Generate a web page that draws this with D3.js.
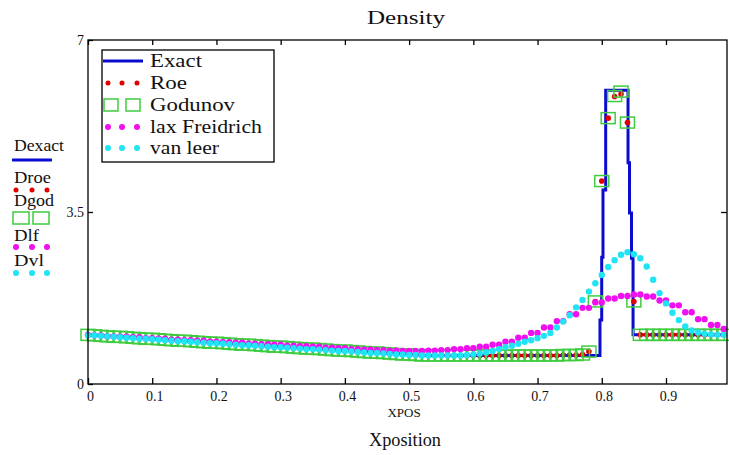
<!DOCTYPE html>
<html><head><meta charset="utf-8">
<script src="https://cdn.jsdelivr.net/npm/d3@7"></script>
<style>
body{margin:0;background:#fff}
svg{display:block}
svg text{font-family:"Liberation Serif","DejaVu Serif",serif !important;fill:#111}
</style>
</head><body>
<svg id="chart" width="729" height="455"></svg>
<script>
// ---------- data ----------
const xTicks = [0, 0.1, 0.2, 0.3, 0.4, 0.5, 0.6, 0.7, 0.8, 0.9];
const xTickLabels = ["0", "0.1", "0.2", "0.3", "0.4", "0.5", "0.6", "0.7", "0.8", "0.9"];
const yTicks = [0, 3.5, 7];
const yTickLabels = ["0", "3.5", "7"];

const xGrid = [
0.00,0.01,0.02,0.03,0.04,0.05,0.06,0.07,0.08,0.09,
0.10,0.11,0.12,0.13,0.14,0.15,0.16,0.17,0.18,0.19,
0.20,0.21,0.22,0.23,0.24,0.25,0.26,0.27,0.28,0.29,
0.30,0.31,0.32,0.33,0.34,0.35,0.36,0.37,0.38,0.39,
0.40,0.41,0.42,0.43,0.44,0.45,0.46,0.47,0.48,0.49,
0.50,0.51,0.52,0.53,0.54,0.55,0.56,0.57,0.58,0.59,
0.60,0.61,0.62,0.63,0.64,0.65,0.66,0.67,0.68,0.69,
0.70,0.71,0.72,0.73,0.74,0.75,0.76,0.77,0.78,0.79,
0.80,0.81,0.82,0.83,0.84,0.85,0.86,0.87,0.88,0.89,
0.90,0.91,0.92,0.93,0.94,0.95,0.96,0.97,0.98,0.99];

const exactX = [0, 0.1, 0.2, 0.3, 0.4, 0.5, 0.53, 0.78, 0.7972, 0.7972, 0.7999, 0.7999, 0.8019, 0.8019, 0.8061, 0.8061, 0.8409, 0.8409, 0.8432, 0.8432, 0.8463, 0.8463, 0.8487, 0.8487, 0.99];
const exactD = [1.0, 0.92, 0.84, 0.76, 0.68, 0.60, 0.58, 0.58, 0.58, 1.30, 1.30, 2.58, 2.58, 3.95, 3.95, 5.98, 5.98, 4.50, 4.50, 3.48, 3.48, 2.56, 2.56, 1.0, 1.0];

const roe = [
1.00,0.99,0.98,0.97,0.96,0.96,0.95,0.94,0.93,0.92,
0.92,0.91,0.90,0.89,0.88,0.88,0.87,0.86,0.85,0.84,
0.84,0.83,0.82,0.81,0.80,0.80,0.79,0.78,0.77,0.76,
0.76,0.75,0.74,0.73,0.72,0.72,0.71,0.70,0.69,0.68,
0.68,0.67,0.66,0.65,0.64,0.64,0.63,0.62,0.61,0.60,
0.60,0.59,0.58,0.58,0.58,0.58,0.58,0.58,0.58,0.58,
0.58,0.58,0.58,0.58,0.58,0.58,0.58,0.58,0.58,0.58,
0.58,0.58,0.58,0.58,0.59,0.59,0.59,0.60,0.66,1.68,
4.13,5.41,5.85,5.90,5.32,1.68,1.00,1.00,1.00,1.00,
1.00,1.00,1.00,1.00,1.00,1.00,1.00,1.00,1.00,1.00];

const godunov = [
1.00,0.99,0.98,0.97,0.96,0.96,0.95,0.94,0.93,0.92,
0.92,0.91,0.90,0.89,0.88,0.88,0.87,0.86,0.85,0.84,
0.84,0.83,0.82,0.81,0.80,0.80,0.79,0.78,0.77,0.76,
0.76,0.75,0.74,0.73,0.72,0.72,0.71,0.70,0.69,0.68,
0.68,0.67,0.66,0.65,0.64,0.64,0.63,0.62,0.61,0.60,
0.60,0.59,0.58,0.58,0.58,0.58,0.58,0.58,0.58,0.58,
0.58,0.58,0.58,0.58,0.58,0.58,0.58,0.58,0.58,0.58,
0.58,0.58,0.58,0.58,0.59,0.59,0.59,0.60,0.66,1.68,
4.13,5.41,5.86,5.95,5.32,1.68,1.00,1.00,1.00,1.00,
1.00,1.00,1.00,1.00,1.00,1.00,1.00,1.00,1.00,1.00];

const laxF = [
1.00,0.99,0.99,0.97,0.97,0.96,0.96,0.95,0.95,0.93,
0.93,0.92,0.92,0.90,0.90,0.89,0.89,0.88,0.88,0.86,
0.86,0.85,0.85,0.84,0.84,0.82,0.82,0.81,0.81,0.80,
0.80,0.78,0.78,0.77,0.77,0.76,0.76,0.74,0.74,0.73,
0.73,0.71,0.71,0.70,0.70,0.69,0.69,0.68,0.68,0.67,
0.67,0.67,0.67,0.68,0.68,0.69,0.69,0.71,0.71,0.73,
0.73,0.76,0.76,0.80,0.80,0.86,0.86,0.94,0.94,1.04,
1.04,1.15,1.15,1.28,1.28,1.42,1.42,1.55,1.55,1.66,
1.66,1.74,1.74,1.79,1.79,1.82,1.82,1.78,1.78,1.70,
1.70,1.60,1.60,1.46,1.46,1.32,1.32,1.20,1.20,1.12];

const vanLeer = [
0.99,0.99,0.98,0.97,0.96,0.95,0.94,0.93,0.92,0.92,
0.91,0.90,0.89,0.88,0.87,0.87,0.86,0.85,0.84,0.83,
0.83,0.82,0.81,0.80,0.79,0.79,0.78,0.77,0.76,0.75,
0.75,0.74,0.73,0.72,0.71,0.71,0.70,0.69,0.68,0.67,
0.67,0.66,0.65,0.64,0.63,0.63,0.62,0.61,0.60,0.60,
0.59,0.59,0.58,0.58,0.58,0.58,0.58,0.58,0.58,0.59,
0.60,0.62,0.64,0.67,0.71,0.75,0.78,0.82,0.86,0.89,
0.93,0.98,1.04,1.15,1.27,1.40,1.56,1.71,1.88,2.05,
2.22,2.38,2.52,2.63,2.68,2.64,2.56,2.39,2.12,1.85,
1.64,1.45,1.30,1.17,1.09,1.05,1.02,1.01,1.00,1.00];

const legendNames = ["Exact", "Roe", "Godunov", "lax Freidrich", "van leer"];
const traceNames = ["Dexact", "Droe", "Dgod", "Dlf", "Dvl"];
const colors = {exact:"#0b0bd0", roe:"#e00000", god:"#3fcc3f", lf:"#ee10ee", vl:"#20e4f4"};
const SERIF = "'Liberation Serif','DejaVu Serif',serif";

// ---------- chart ----------
const svg = d3.select("#chart").attr("font-family", SERIF);
const x = d3.scaleLinear().domain([0, 0.995]).range([88, 727]);
const y = d3.scaleLinear().domain([0, 7]).range([384, 40]);

// exact line
const exactPts = exactX.map((v, i) => [v, exactD[i]]);
svg.append("path").datum(exactPts)
  .attr("fill", "none").attr("stroke", colors.exact).attr("stroke-width", 3)
  .attr("d", d3.line().x(d => x(d[0])).y(d => y(d[1])));

// Roe dots
svg.append("g").selectAll("circle").data(roe).join("circle")
  .attr("cx", (d, i) => x(xGrid[i])).attr("cy", d => y(d)).attr("r", 2.8)
  .attr("fill", colors.roe);

// Godunov squares
svg.append("g").selectAll("rect").data(godunov).join("rect")
  .attr("x", (d, i) => x(xGrid[i]) - 7).attr("y", d => y(d) - 5.5)
  .attr("width", 14).attr("height", 11)
  .attr("fill", "none").attr("stroke", colors.god).attr("stroke-width", 1.5);

// Lax-Friedrichs dots
svg.append("g").selectAll("circle").data(laxF).join("circle")
  .attr("cx", (d, i) => x(xGrid[i])).attr("cy", d => y(d)).attr("r", 3.2)
  .attr("fill", colors.lf);

// van Leer dots
svg.append("g").selectAll("circle").data(vanLeer).join("circle")
  .attr("cx", (d, i) => x(xGrid[i])).attr("cy", d => y(d)).attr("r", 3.2)
  .attr("fill", colors.vl);

// frame
svg.append("rect").attr("x", 88).attr("y", 40).attr("width", 639).attr("height", 344)
  .attr("fill", "none").attr("stroke", "#000").attr("stroke-width", 1.3);

// axes
const fmtX = d => xTickLabels[xTicks.indexOf(d)];
const fmtY = d => yTickLabels[yTicks.indexOf(d)];
const axB = svg.append("g").attr("transform", "translate(0,384)")
  .call(d3.axisBottom(x).tickValues(xTicks).tickFormat(fmtX).tickSizeInner(-6).tickSizeOuter(0).tickPadding(7));
const axT = svg.append("g").attr("transform", "translate(0,40)")
  .call(d3.axisTop(x).tickValues(xTicks).tickFormat("").tickSizeInner(-5).tickSizeOuter(0));
const axL = svg.append("g").attr("transform", "translate(88,0)")
  .call(d3.axisLeft(y).tickValues(yTicks).tickFormat(fmtY).tickSizeInner(-5).tickSizeOuter(0).tickPadding(4));
const axR = svg.append("g").attr("transform", "translate(727,0)")
  .call(d3.axisRight(y).tickValues([3.5]).tickFormat("").tickSizeInner(-6).tickSizeOuter(0));
[axB, axT, axL, axR].forEach(a => {
  a.attr("font-family", SERIF);
  a.select(".domain").remove();
  a.selectAll(".tick line").attr("stroke", "#000").attr("stroke-width", 1.3);
  a.selectAll("text").attr("font-family", SERIF).attr("font-size", 14).attr("fill", "#111");
});
axB.selectAll("text").attr("dx", 2);

// titles
svg.append("text").attr("x", 406).attr("y", 24).attr("text-anchor", "middle")
  .attr("font-size", 18).attr("textLength", 78).attr("lengthAdjust", "spacingAndGlyphs").text("Density");
svg.append("text").attr("x", 404).attr("y", 417).attr("text-anchor", "middle")
  .attr("font-size", 13).text("XPOS");
svg.append("text").attr("x", 405).attr("y", 446).attr("text-anchor", "middle")
  .attr("font-size", 18).attr("textLength", 72).attr("lengthAdjust", "spacingAndGlyphs").text("Xposition");

// legend box
const lg = svg.append("g");
lg.append("rect").attr("x", 102).attr("y", 50).attr("width", 172).attr("height", 112)
  .attr("fill", "#fff").attr("stroke", "#000").attr("stroke-width", 1.3);
const rowY = [61, 83, 105, 127, 148];
const lens = [52, 37, 85, 112, 69];
legendNames.forEach((n, i) => {
  lg.append("text").attr("x", 150).attr("y", rowY[i] + 6).attr("font-size", 19)
    .attr("textLength", lens[i]).attr("lengthAdjust", "spacingAndGlyphs").text(n);
});
lg.append("line").attr("x1", 103).attr("x2", 143).attr("y1", rowY[0]).attr("y2", rowY[0])
  .attr("stroke", colors.exact).attr("stroke-width", 3);
[108, 122, 137].forEach(cx => {
  lg.append("circle").attr("cx", cx).attr("cy", rowY[1]).attr("r", 2.5).attr("fill", colors.roe);
  lg.append("circle").attr("cx", cx).attr("cy", rowY[3]).attr("r", 3).attr("fill", colors.lf);
  lg.append("circle").attr("cx", cx).attr("cy", rowY[4]).attr("r", 3).attr("fill", colors.vl);
});
[104, 126].forEach(sx => {
  lg.append("rect").attr("x", sx).attr("y", rowY[2] - 6).attr("width", 14).attr("height", 12)
    .attr("fill", "none").attr("stroke", colors.god).attr("stroke-width", 1.5);
});

// left trace labels
const tl = svg.append("g");
const tY = [151, 183, 206, 241, 266];
const tLens = [50, 37, 40, 25, 30];
traceNames.forEach((n, i) => {
  tl.append("text").attr("x", 14).attr("y", tY[i]).attr("font-size", 16)
    .attr("textLength", tLens[i]).attr("lengthAdjust", "spacingAndGlyphs").text(n);
});
tl.append("line").attr("x1", 12).attr("x2", 52).attr("y1", 160).attr("y2", 160)
  .attr("stroke", colors.exact).attr("stroke-width", 3);
[16, 32, 47].forEach(cx => {
  tl.append("circle").attr("cx", cx).attr("cy", 190).attr("r", 2.5).attr("fill", colors.roe);
  tl.append("circle").attr("cx", cx).attr("cy", 247).attr("r", 3).attr("fill", colors.lf);
  tl.append("circle").attr("cx", cx).attr("cy", 273).attr("r", 3).attr("fill", colors.vl);
});
[13, 33].forEach(sx => {
  tl.append("rect").attr("x", sx).attr("y", 212).attr("width", 16).attr("height", 12)
    .attr("fill", "none").attr("stroke", colors.god).attr("stroke-width", 1.5);
});
</script>
</body></html>
